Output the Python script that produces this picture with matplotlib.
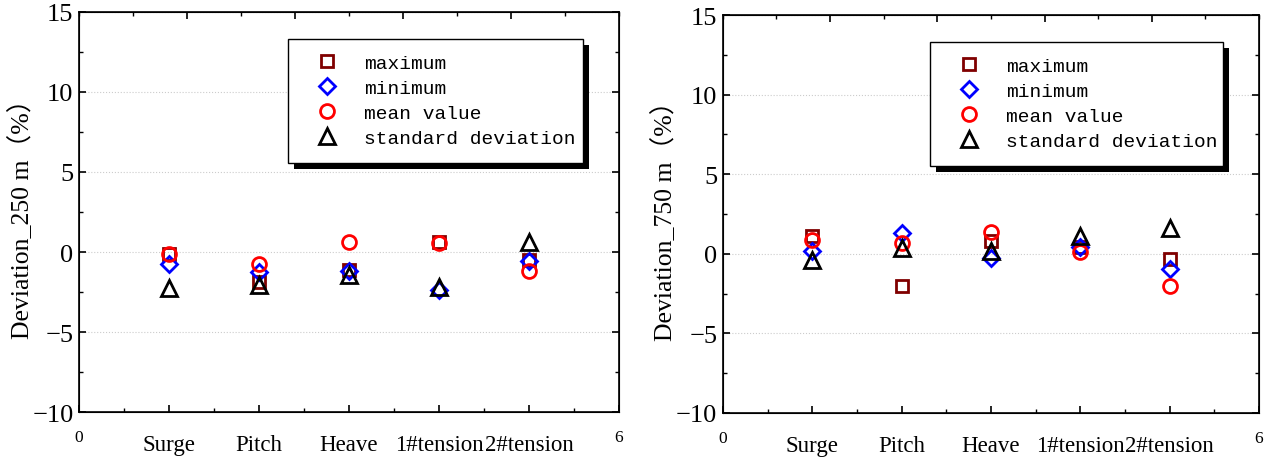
import numpy as np
import matplotlib
matplotlib.use('Agg')
import matplotlib.pyplot as plt
from matplotlib.patches import Rectangle
from matplotlib.ticker import MultipleLocator

categories = ['Surge', 'Pitch', 'Heave', '1#tension', '2#tension']
pos = [1, 2, 3, 4, 5]

# deviation at 250 m (%)
max_250 = [-0.1, -1.9, -1.15, 0.6, -0.5]
min_250 = [-0.75, -1.25, -1.2, -2.4, -0.55]
mean_250 = [-0.1, -0.75, 0.65, 0.57, -1.2]
std_250 = [-2.25, -2.05, -1.45, -2.2, 0.6]

# deviation at 750 m (%)
max_750 = [1.1, -2.0, 0.8, 0.4, -0.3]
min_750 = [0.15, 1.3, -0.25, 0.45, -0.95]
mean_750 = [0.85, 0.65, 1.35, 0.1, -2.05]
std_750 = [-0.4, 0.35, 0.2, 1.1, 1.65]

serif = ['Liberation Serif', 'Noto Sans CJK SC']
plt.rcParams['font.family'] = serif

fig = plt.figure(figsize=(12.66, 4.6), dpi=100)
ax1 = fig.add_axes([0.0624, 0.102, 0.4265, 0.870])
ax2 = fig.add_axes([0.571, 0.100, 0.4234, 0.865])


def draw(ax, mx, mn, me, sd, ylab):
    ax.plot(pos, mx, ls='none', marker='s', ms=8.5, mfc='none', mec='#800000', mew=2, label='maximum')
    ax.plot(pos, mn, ls='none', marker='D', ms=8.5, mfc='none', mec='#0000ff', mew=2, label='minimum')
    ax.plot(pos, me, ls='none', marker='o', ms=10, mfc='none', mec='#ff0000', mew=2, label='mean value')
    ax.plot(pos, sd, ls='none', marker='^', ms=11, mfc='none', mec='black', mew=2, label='standard deviation')

    ax.set_xlim(0, 6)
    ax.set_ylim(-10, 15)
    ax.set_xticks(range(7))
    ax.set_xticklabels(['0'] + categories + ['6'])
    ax.xaxis.set_minor_locator(MultipleLocator(0.5))
    ax.yaxis.set_major_locator(MultipleLocator(5))
    ax.yaxis.set_minor_locator(MultipleLocator(2.5))
    ax.tick_params(which='both', direction='in', right=True)
    ax.tick_params(axis='y', labelsize=19, pad=4)
    ax.tick_params(axis='x', labelsize=16.5)
    ax.tick_params(which='major', length=5, width=1.2)
    ax.tick_params(which='minor', length=3, width=1)
    ax.tick_params(axis='x', which='both', top=False, pad=16)
    ticks = ax.xaxis.get_major_ticks()
    for t in (ticks[0], ticks[-1]):
        t.label1.set_fontsize(12.5)
        t.set_pad(12)
    ax.grid(axis='y', ls=':', color='#cccccc', lw=0.8)
    for s in ax.spines.values():
        s.set_linewidth(1.2)
    ax.set_ylabel(ylab, fontsize=18.5, family=serif, labelpad=-1)

    top = ax.twiny()
    top.set_xlim(0, 5)
    top.set_xticks([1, 2, 3, 4])
    top.xaxis.set_minor_locator(MultipleLocator(0.5))
    top.tick_params(which='both', direction='in', labeltop=False)
    top.tick_params(which='major', length=5, width=1.2)
    top.tick_params(which='minor', length=3, width=1)

    leg = ax.legend(loc='upper left', bbox_to_anchor=(0.387, 0.0, 0.546, 0.9325), mode='expand',
                    prop={'family': 'Liberation Mono', 'size': 14}, frameon=True, fancybox=False,
                    framealpha=1, edgecolor='black', handlelength=2.4, handletextpad=0.7,
                    borderpad=0.8, labelspacing=0.38, borderaxespad=0)
    leg.get_frame().set_linewidth(1.0)
    leg.set_zorder(10)
    return leg


axes = [ax1, ax2]
legs = [draw(ax1, max_250, min_250, mean_250, std_250, 'Deviation_250 m（%）'),
        draw(ax2, max_750, min_750, mean_750, std_750, 'Deviation_750 m（%）')]

fig.canvas.draw()
for ax, leg in zip(axes, legs):
    bb = leg.get_window_extent().transformed(fig.transFigure.inverted())
    dx, dy = 6 / fig.bbox.width, 6 / fig.bbox.height
    shadow = Rectangle((bb.x0 + dx, bb.y0 - dy), bb.width, bb.height,
                       transform=fig.transFigure, facecolor='black',
                       edgecolor='none', zorder=9, clip_on=False)
    ax.add_artist(shadow)

fig.savefig('out.png', dpi=100)
